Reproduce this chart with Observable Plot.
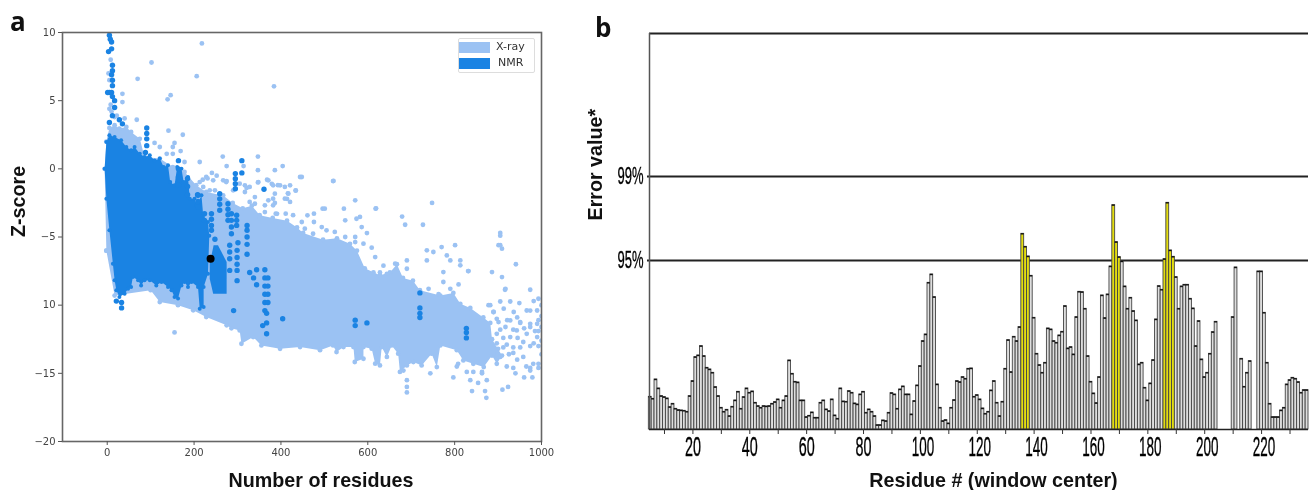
<!DOCTYPE html>
<html><head><meta charset="utf-8">
<script src="https://cdn.jsdelivr.net/npm/d3@7"></script>
<script src="https://cdn.jsdelivr.net/npm/@observablehq/plot@0.6"></script>
<style>
html,body{margin:0;padding:0;background:#fff}
#page{position:relative;width:1309px;height:490px;overflow:hidden;background:#fff;filter:blur(.4px)}
#page>div{position:absolute}
.panel{font:700 26px "Open Sans",sans-serif;color:#111;line-height:26px}
.lg{font:11px "DejaVu Sans",sans-serif;color:#333}
</style></head><body><div id="page"></div>
<script>
const LIGHT="#9bc2f3", DARK="#1a83e3";
// ---- panel a : Z-score vs number of residues
const xrayOutline=[[-6,0],[-2,2],[5,3],[17,3.2],[28,2.95],[44,3.07],[55,2.7],[75,2.2],[86,.87],[121,.75],[151,.13],[178,-.23],[205,-1.2],[228,-1.7],[267,-1.95],[289,-2.5],[312,-2.9],[333,-2.7],[351,-3.4],[381,-3.6],[414,-3.8],[437,-4.3],[451,-4.7],[497,-5.2],[529,-5.1],[559,-5.5],[575,-6],[593,-7.3],[628,-7.8],[651,-7.6],[667,-7],[681,-8],[704,-8.2],[720,-8.9],[767,-9.3],[797,-9.1],[813,-9.9],[836,-10.2],[866,-10.9],[882,-11.3],
[886,-12.5],[909,-13.7],[897,-14.3],[886,-13.7],[867,-14.54],[843,-14.3],[820,-14.05],[805,-13.3],[767,-12.95],[759,-14.54],[747,-13.56],[724,-14.42],[705,-14.17],[690,-14.42],[674,-14.9],[670,-13.56],[655,-12.95],[644,-13.8],[632,-13.07],[628,-14.42],[617,-14.29],[609,-13.19],[590,-13.07],[590,-13.93],[570,-14.17],[567,-13.07],[544,-13.07],[528,-13.44],[520,-12.95],[490,-13.3],[444,-13.07],[398,-13.2],[355,-12.95],[336,-12.34],[309,-12.83],[305,-11.85],[286,-11.7],[275,-11.48],[228,-10.87],[198,-10.38],[163,-10],[121,-9.77],[100,-8.9],[17,-9.3],[-2,-6]];
const nmrOutline=[[-6,0],[-2,1.97],[5,2.46],[17,2.34],[32,2.09],[44,1.6],[55,1.36],[63,1.6],[75,1.11],[86,.87],[98,.99],[109,.62],[121,.75],[130,.13],[140,.26],[145,-.97],[155,-1.21],[161,.13],[171,0],[176,-.97],[186,-.6],[190,-2.19],[201,-2.19],[207,-2.68],[217,-1.94],[221,-3.4],[232,-3.9],[235,-4.9],[232,-7.69],[222,-8.67],[222,-10.14],[213,-10.26],[209,-8.67],[194,-8.3],[186,-8.67],[178,-8.3],[171,-8.55],[163,-9.52],[155,-9.4],[148,-8.91],[140,-8.67],[125,-8.3],[113,-8.55],[98,-8.18],[86,-8.18],[78,-8.55],[71,-8.18],[59,-7.93],[55,-8.67],[48,-8.79],[40,-9.16],[28,-9.4],[21,-8.91],[17,-8.18],[13,-6.96],[5,-4.51],[-2,-2.19]];
const nmrBlob=[[236,-6.96],[245,-5.6],[255,-5.6],[275,-6.83],[275,-9.16],[244,-9.16],[236,-8.06]];
const xrayPoints=[[218,9.2],[102,7.8],[206,6.8],[384,6.05],[70,6.6],[35,5.5],[146,5.4],[139,5.1],[35,4.9],[40,3.7],[68,3.6],[141,2.8],[174,2.5],[155,1.9],[109,1.9],[121,1.6],[151,1.6],[169,1.3],[137,1.1],[151,1.1],[266,.9],[347,.9],[213,.5],[275,.2],[314,.2],[404,.2],[347,-.1],[386,-.1],[178,.5],[241,-.3],[444,-.6],[220,-.8],[231,-.7],[252,-.5],[275,-.9],[321,-1.4],[347,-1],[368,-.8],[379,-1.1],[393,-1.2],[434,-1.6],[416,-1.8],[414,-2.2],[386,-2.5],[391,-3.3],[351,-3.6],[428,-3.4],
[8,8],[3,7],[5,6.5],[8,4.7],[5,4.4],[17,3.8],[22,3.9],[10,4.2],
[213,-.97],[228,-.6],[244,-.84],[267,-.84],[274,-.97],[221,-1.33],[236,-1.58],[209,-2.3],[228,-2.19],[248,-1.58],[290,-1.58],[305,-1.09],[317,-1.21],[328,-1.33],[317,-1.7],[340,-2.07],[340,-2.56],[328,-2.43],[348,-.97],[371,-.84],[382,-1.21],[398,-1.21],[409,-1.33],[421,-1.21],[434,-1.58],[386,-1.82],[382,-2.19],[382,-2.68],[371,-2.31],[417,-1.82],[409,-2.19],[421,-2.43],[363,-2.68],[363,-3.17],[388,-3.29],[411,-3.29],[448,-.6],[521,-.89],[571,-2.31],[496,-2.92],[501,-2.92],[545,-2.92],[618,-2.92],[548,-3.78],[574,-3.66],[586,-4.27],[598,-4.71],[582,-3.53],[461,-3.41],[476,-3.29],[476,-3.9],[448,-3.9],[455,-4.39],[494,-4.27],[505,-4.51],[524,-4.63],[548,-5],[571,-5],[571,-5.37],[590,-5.49],[609,-5.78],[474,-4.76],[617,-6.47],
[636,-7.1],[613,-7.6],[628,-7.6],[644,-7.7],[663,-6.96],[690,-6.72],[690,-7.33],[736,-5.98],[736,-6.72],[751,-6.1],[770,-5.74],[782,-6.35],[790,-6.72],[801,-5.6],[813,-6.72],[813,-7.08],[832,-7.5],[774,-7.57],[809,-8.48],[774,-8.3],[790,-8.8],[740,-8.8],[763,-9.2],[916,-8.87],[974,-8.87],[886,-7.57],[909,-7.94],[941,-7],[901,-5.6],[909,-5.86],[993,-9.53],[982,-9.7],[905,-9.73],[928,-9.73],[949,-9.85],[878,-10],[890,-10.5],[913,-10.26],[936,-10.5],[966,-10.39],[990,-10.39],[901,-11.24],[928,-11.12],[951,-11.24],[917,-11.6],[974,-11.37],[990,-11.37],[943,-11.85],[966,-12.1],[990,-12.34],[928,-12.34],[897,-12.1],
[520,-.9],[619,-2.9],[679,-3.5],[727,-4.1],[686,-4.1],[748,-2.5],[905,-4.7],[905,-4.9],[905,-5.6],[831,-7.5],[917,-8.8],
[690,-15.5],[690,-16],[690,-16.4],[682,-14.8],[797,-15.3],[744,-15],[805,-14.5],[828,-14.9],[843,-14.9],[863,-14.9],[874,-15.5],[836,-15.5],[840,-16.3],[854,-15.7],[870,-16.3],[873,-16.8],[910,-16.2],[923,-16],[863,-15],[960,-15.3],[979,-15.3],[940,-15],[974,-14.6],[993,-14.6],[935,-14.6],[808,-14.3],[155,-12],[-2,-6],
[882,-10],[889,-10.5],[897,-11],[921,-11.1],[935,-11.8],[951,-11.3],[974,-10.4],[974,-11.6],[993,-11.1],[993,-11.9],[944,-10.9],[905,-11.8],[912,-12.4],[897,-12.8],[889,-13.5],[905,-13.8],[935,-13.1],[951,-13.1],[974,-13],[993,-13],[958,-13.8],[981,-14.3],[993,-14.3],[935,-13.5],[944,-14],[974,-14.8],[912,-13.1],[920,-14.5],[1000,-10],[1000,-10.8],[1000,-11.6],[1000,-12.6],[1000,-13.6],
[920,-12.9],[925,-13.6],[945,-12.4],[958,-12.7],[982,-12.8],[965,-14.5],[900,-13.2],[985,-11.9],[960,-11.7]];
const nmrPoints=[[5,9.8],[7,9.5],[10,9.3],[10,8.8],[3,8.6],[12,7.6],[12,7.2],[10,6.9],[12,6.5],[12,6.1],[5,5.6],[1,5.6],[10,5.6],[12,5.3],[17,5],[17,4.5],[12,3.9],[5,3.4],[28,3.6],[35,3.3],[91,3],[91,2.6],[91,2.2],[91,1.7],[88,1.2],[310,.6],[310,-.3],[295,-.35],[295,-.72],[295,-1.09],[295,-1.46],[361,-1.5],[208,-1.9],[208,-2.7],[185,-.7],[185,-1.3],[185,-1.9],[164,.6],[164,0],[164,-.6],[164,-1.2],[259,-1.82],[259,-2.2],[259,-2.6],[259,-3.04],[224,-3.29],[224,-3.78],[240,-3.29],[240,-3.7],[240,-4.15],[240,-4.5],[278,-2.56],[278,-2.97],[278,-3.37],[278,-3.78],[298,-3.41],[298,-3.78],[298,-4.15],[286,-3.29],[286,-3.78],[286,-4.27],[286,-4.76],[322,-4.15],[322,-4.5],[322,-5],[322,-5.54],[322,-6.27],[209,-1.94],[209,-2.4],[209,-2.8],[282,-5.61],[282,-6.1],[282,-6.6],[282,-7.45],[299,-5.98],[299,-6.5],[299,-7],[299,-7.45],[299,-8.2],[301,-5.42],[248,-5.17],[344,-7.4],[328,-7.6],[337,-8],[344,-8.5],[363,-7.4],[363,-8],[363,-8.6],[363,-9.2],[363,-9.8],[363,-10.4],[370,-8],[370,-8.6],[370,-9.2],[370,-9.8],[367,-10.6],[367,-11.3],[367,-12.1],[358,-11.5],[404,-11],[291,-10.4],[21,-9.7],[33,-9.8],[33,-10.2],[571,-11.1],[571,-11.5],[598,-11.3],[720,-9.1],[720,-10.2],[720,-10.6],[720,-10.9],[827,-11.7],[827,-12],[827,-12.4]];
const highlightPoint=[[238,-6.6]];
const zTicks=[-20,-15,-10,-5,0,5,10];
const zTickLabels=["\u221220","\u221215","10","\u22125","0","5","10"];
const residueCountTicks=[0,200,400,600,800,1000];

// ---- panel b : error value per residue
const barValues=[[5,98],[6,92],[7,150],[8,123],[9,100],[10,97],[11,93],[12,67],[13,77],[14,62],[15,58],[16,57],[17,56],[18,53],[19,100],[20,145],[21,217],[22,222],[23,250],[24,220],[25,185],[26,180],[27,170],[28,127],[29,100],[30,65],[31,53],[32,59],[33,40],[34,68],[35,87],[36,113],[37,62],[38,97],[39,123],[40,110],[41,114],[42,80],[43,70],[44,65],[45,70],[46,69],[47,70],[48,77],[49,82],[50,90],[51,65],[52,87],[53,100],[54,207],[55,167],[56,143],[57,141],[58,87],[59,87],[60,37],[61,41],[62,51],[63,35],[64,35],[65,80],[66,87],[67,60],[68,55],[69,90],[70,42],[71,32],[72,123],[73,84],[74,83],[75,115],[76,110],[77,78],[78,75],[79,105],[80,113],[81,50],[82,60],[83,53],[84,40],[85,13],[86,13],[87,27],[88,25],[89,50],[90,109],[91,105],[92,62],[93,120],[94,129],[95,105],[96,105],[97,45],[98,85],[99,132],[100,190],[101,265],[102,285],[103,440],[104,465],[105,397],[106,135],[107,65],[108,25],[109,28],[110,18],[111,65],[112,88],[113,145],[114,142],[115,157],[116,152],[117,182],
[118,183],[119,98],[120,103],[121,90],[122,63],[123,47],[124,53],[125,117],[126,145],[127,80],[128,40],[129,83],[130,182],[131,268],[132,172],[133,278],[134,265],[135,307],[136,587],[137,548],[138,519],[139,461],[140,335],[141,227],[142,193],[143,170],[144,200],[145,303],[146,300],[147,265],[148,260],[149,282],[150,293],[151,370],[152,243],[153,247],[154,225],[155,337],[156,413],[157,412],[158,362],[159,220],[160,143],[161,108],[162,79],[163,157],[164,402],[165,334],[166,405],[167,489],[168,673],[169,562],[170,517],[171,504],[172,429],[173,362],[174,395],[175,355],[176,327],[177,195],[178,200],[179,125],[180,87],[181,138],[182,208],[183,330],[184,430],[185,419],[186,511],[187,680],[188,537],[189,518],[190,457],[191,362],[192,429],[193,434],[194,434],[195,392],[196,363],[197,250],[198,325],[199,210],[200,157],[201,170],[202,227],[203,292],[204,323],
[210,337],[211,486],[213,212],[214,128],[215,170],[216,205],[219,474],[220,474],[221,350],[222,200],[223,77],[224,37],[225,37],[226,37],[227,57],[228,65],[229,135],[230,148],[231,155],[232,152],[233,142],[234,110],[235,118],[236,118]];
const yellowResidues=[136,137,138,168,169,170,186,187,188,189];
const thresholdValues=[507,759];
const thresholdLabels=["95%","99%"];
const topValue=1188;
const residueTicks=[10,20,30,40,50,60,70,80,90,100,110,120,130,140,150,160,170,180,190,200,210,220,230];

const page=document.getElementById("page");
function place(node,left,top){const d=document.createElement("div");d.style.left=left+"px";d.style.top=top+"px";d.appendChild(node);page.appendChild(d);return d;}
function html(cls,text,left,top){const d=document.createElement("div");d.className=cls;d.textContent=text;d.style.left=left+"px";d.style.top=top+"px";page.appendChild(d);}
const sty={background:"transparent",overflow:"visible",fontFamily:"DejaVu Sans",fontSize:"10px"};
const title={fontFamily:"Liberation Sans",fontWeight:700,fontSize:19.7,fill:"#111"};
const poly=(P,fill)=>Plot.line([...P,P[0]],{x:"0",y:"1",fill,stroke:"none",curve:"linear",clip:true});

const a=Plot.plot({width:590,height:490,marginLeft:62,marginRight:49,marginTop:32,marginBottom:49,style:sty,
 x:{domain:[-103,1000],label:null},y:{domain:[-20,10],label:null},
 marks:[
  poly(xrayOutline,LIGHT),
  Plot.dot(xrayOutline,{x:"0",y:"1",r:2.4,fill:LIGHT,clip:true}),
  Plot.dot(xrayPoints,{x:"0",y:"1",r:2.4,fill:LIGHT,clip:true}),
  poly(nmrOutline,DARK),
  poly(nmrBlob,DARK),
  Plot.dot(nmrOutline,{x:"0",y:"1",r:2,fill:DARK,clip:true}),
  Plot.dot(nmrPoints,{x:"0",y:"1",r:2.7,fill:DARK,clip:true}),
  Plot.dot(highlightPoint,{x:"0",y:"1",r:4,fill:"#000"}),
  Plot.frame({stroke:"#666",strokeWidth:1.6}),
  Plot.axisX({ticks:residueCountTicks,tickFormat:d=>String(d),tickSize:4,tickPadding:3,label:null,stroke:"#555",color:"#444"}),
  Plot.axisY({ticks:zTicks,tickFormat:d=>zTickLabels[zTicks.indexOf(d)],tickSize:4,tickPadding:3,label:null,stroke:"#555",color:"#444"}),
  Plot.text(["Number of residues"],{frameAnchor:"bottom",dx:19,dy:39,lineAnchor:"middle",...title}),
  Plot.text(["Z-score"],{frameAnchor:"left",dx:-44,rotate:-90,...title})
 ]});
place(a,0,0);

const isY=d=>yellowResidues.includes(d[0]);
const b=Plot.plot({width:719,height:490,marginLeft:59,marginRight:1,marginTop:33,marginBottom:61,style:sty,
 x:{domain:[4.73,236.5],label:null},y:{domain:[0,topValue],label:null},
 marks:[
  Plot.ruleY([topValue],{stroke:"#222",strokeWidth:2}),
  Plot.ruleY(thresholdValues,{stroke:"#222",strokeWidth:2,insetLeft:-2}),
  Plot.rectY(barValues,{x1:d=>d[0]-.5,x2:d=>d[0]+.5,y:"1",fill:d=>isY(d)?"#e3dd10":"#dedede",stroke:"#444",strokeWidth:.9}),
  Plot.ruleY(barValues,{y:"1",x1:d=>d[0]-.5,x2:d=>d[0]+.5,stroke:"#111",strokeWidth:1.4}),
  Plot.ruleX([4.73],{stroke:"#555",strokeWidth:1.5}),
  Plot.ruleY([0],{stroke:"#222",strokeWidth:1.6}),
  Plot.axisX({ticks:residueTicks,tickFormat:d=>d%20?"":String(d),tickSize:5,tickPadding:2,label:null,fontFamily:"Liberation Sans",fontSize:27,color:"#000",stroke:"#333"}),
  Plot.axisY({ticks:thresholdValues,tickFormat:d=>thresholdLabels[thresholdValues.indexOf(d)],tickSize:0,tickPadding:6,label:null,fontFamily:"Liberation Sans",fontSize:23,color:"#000"}),
  Plot.text(["Residue # (window center)"],{frameAnchor:"bottom",dx:14.5,dy:51,lineAnchor:"middle",...title}),
  Plot.text(["Error value*"],{frameAnchor:"left",dx:-54,dy:-11,rotate:-90,...title})
 ]});
place(b,590,0);
// squeeze the tall condensed tick labels of panel b and give them the reference's weight
d3.select(b).selectAll("text").each(function(){
  const s=this.textContent;
  if(/^\d+$/.test(s)){this.setAttribute("textLength",s.length===2?16:22.5);this.setAttribute("lengthAdjust","spacingAndGlyphs");this.style.stroke="#000";this.style.strokeWidth=".35px";if(s.length===3)this.setAttribute("dx","2.5");}
  if(/^\d+%$/.test(s)){this.setAttribute("textLength",26);this.setAttribute("lengthAdjust","spacingAndGlyphs");this.style.stroke="#000";this.style.strokeWidth=".35px";}
});

// legend
const lgBox=document.createElement("div");lgBox.style.cssText="left:458px;top:38px;width:77px;height:35px;border:1px solid #ddd;border-radius:2px;background:#fff;box-sizing:border-box";page.appendChild(lgBox);
const sw=(t,c)=>{const d=document.createElement("div");d.style.cssText=`left:459px;top:${t}px;width:31px;height:11px;background:${c}`;page.appendChild(d);};
sw(42,LIGHT);sw(58,DARK);
html("lg","X-ray",496,40);html("lg","NMR",498,56);
html("panel","a",10,8);html("panel","b",595,14);
</script></body></html>
